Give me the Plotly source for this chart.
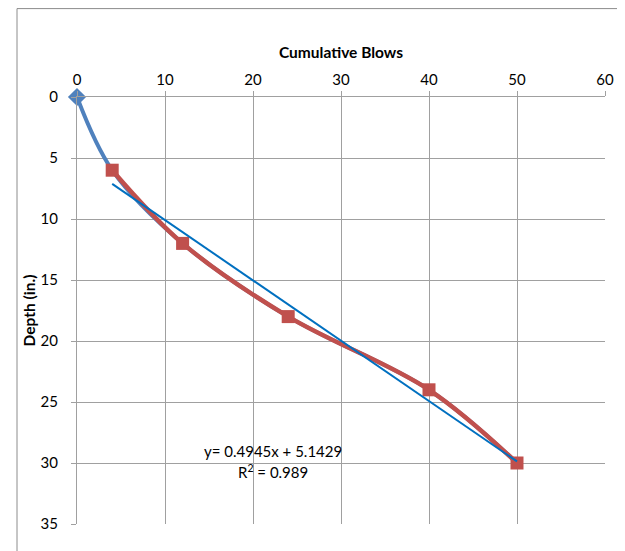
import numpy as np
import plotly.graph_objects as go

# Data
blows_all = [0, 4, 12, 24, 40, 50]
depth_all = [0, 6, 12, 18, 24, 30]
blows_red = [4, 12, 24, 40, 50]
depth_red = [6, 12, 18, 24, 30]

x_title = "Cumulative Blows"
y_title = "Depth (in.)"
x_ticks = [0, 10, 20, 30, 40, 50, 60]
y_ticks = [0, 5, 10, 15, 20, 25, 30, 35]

slope, intercept = np.polyfit(blows_red, depth_red, 1)
fit_x = [min(blows_red), max(blows_red)]
fit_y = [slope * v + intercept for v in fit_x]
pred = np.polyval([slope, intercept], blows_red)
r2 = 1 - np.sum((np.array(depth_red) - pred) ** 2) / np.sum((np.array(depth_red) - np.mean(depth_red)) ** 2)

FONT = "Lato, Calibri, 'Open Sans', sans-serif"
GRID = "#A0A0A0"

# page has an 8px body offset; compensate so the plot lands where the reference has it
OFF = 8
W, H = 625 - OFF, 551 - OFF
L, T, R, B = 77 - OFF, 97 - OFF, 20, 27
PW, PH = W - L - R, H - T - B

def px_x(p):  # absolute page pixel -> paper x
    return (p - OFF - L) / PW

def px_y(p):  # absolute page pixel -> paper y
    return (H - B - (p - OFF)) / PH

fig = go.Figure()
fig.add_trace(go.Scatter(
    x=blows_all, y=depth_all, mode="lines",
    line=dict(color="#4F81BD", width=4, shape="spline", smoothing=1),
    showlegend=False, hoverinfo="skip"))
fig.add_trace(go.Scatter(
    x=blows_red, y=depth_red, mode="lines+markers",
    line=dict(color="#C0504D", width=4.5, shape="spline", smoothing=1),
    marker=dict(symbol="square", size=13, color="#C0504D"),
    showlegend=False))
fig.add_trace(go.Scatter(
    x=[blows_all[0]], y=[depth_all[0]], mode="markers",
    marker=dict(symbol="diamond", size=14, color="#4F81BD"),
    cliponaxis=False, showlegend=False))
fig.add_trace(go.Scatter(
    x=fit_x, y=fit_y, mode="lines",
    line=dict(color="#0070C0", width=2),
    showlegend=False))

fig.add_annotation(x=22.3, y=29.0, xref="x", yref="y",
                   text=f"y= {slope:.4f}x + {intercept:.4f}", showarrow=False,
                   font=dict(family=FONT, size=15, color="#000"))
fig.add_annotation(x=22.3, y=30.7, xref="x", yref="y",
                   text=f"R<sup>2</sup> = {r2:.3f}", showarrow=False,
                   font=dict(family=FONT, size=15, color="#000"))

# outer frame lines
fig.add_shape(type="line", xref="paper", yref="paper",
              x0=px_x(17), x1=px_x(640), y0=px_y(8.6), y1=px_y(8.6),
              line=dict(color="#8C8C8C", width=1))
fig.add_shape(type="line", xref="paper", yref="paper",
              x0=px_x(17), x1=px_x(17), y0=px_y(8.6), y1=px_y(570),
              line=dict(color="#8C8C8C", width=1))

fig.update_layout(
    width=W, height=H,
    margin=dict(l=L, r=R, t=T, b=B),
    paper_bgcolor="white", plot_bgcolor="white",
    font=dict(family=FONT, size=15, color="#000"),
    xaxis=dict(range=[0, 60], side="top", tickvals=x_ticks,
               showgrid=True, gridcolor=GRID, gridwidth=1,
               showline=True, linecolor=GRID, linewidth=1,
               ticks="outside", ticklen=5, tickcolor=GRID,
               zeroline=False, automargin=False,
               tickfont=dict(family=FONT, size=15),
               title=dict(text=f"<b>{x_title}</b>", standoff=7,
                          font=dict(family=FONT, size=15.5))),
    yaxis=dict(range=[35, 0], tickvals=y_ticks,
               showgrid=True, gridcolor=GRID, gridwidth=1,
               showline=True, linecolor=GRID, linewidth=1,
               ticks="outside", ticklen=5, tickcolor=GRID,
               ticklabelstandoff=10,
               zeroline=False, automargin=False,
               tickfont=dict(family=FONT, size=15),
               title=dict(text=f"<b>{y_title}</b>", standoff=1,
                          font=dict(family=FONT, size=15.5))),
)

fig.write_html("out.html")
